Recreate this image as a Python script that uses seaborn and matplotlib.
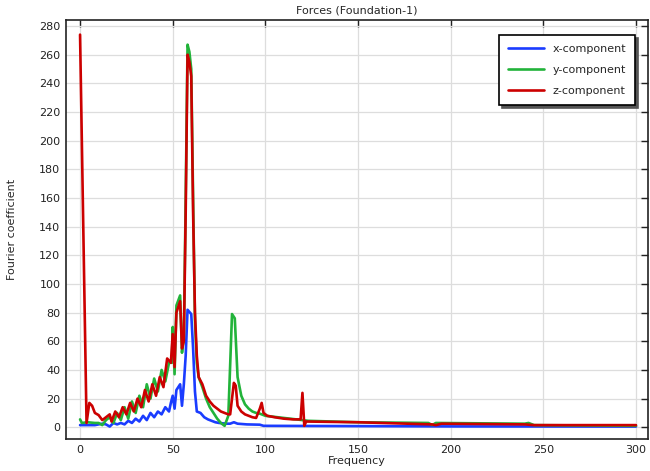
import numpy as np
import pandas as pd
import matplotlib
matplotlib.use("Agg")
import matplotlib.pyplot as plt
import seaborn as sns

# ---- data ----
x_freq = [0, 2, 4, 6, 8, 10, 12, 14, 16, 18, 20, 22, 24, 26, 28, 30, 32, 34, 36, 38,
          40, 42, 44, 46, 48, 49, 50, 51, 52, 54, 55, 56, 57, 58, 60, 61, 62, 63, 65,
          67, 69, 71, 73, 75, 79, 81, 83, 85, 90, 97, 99, 150, 200, 300]
x_vals = [1.5, 1.5, 1.5, 1.5, 1.5, 2, 2.5, 2, 0.5, 3, 2, 3, 2, 4.5, 3, 6, 4, 8, 5, 10,
          7, 11, 9, 14, 11, 17, 22, 13, 26, 30, 15, 30, 50, 82, 79, 55, 25, 11, 10,
          7, 5.5, 4.5, 3.5, 3, 2.5, 2.5, 3.5, 2.5, 2, 1.8, 1, 0.8, 0.6, 0.5]

y_freq = [0, 1, 4, 8, 10, 12, 14, 16, 18, 20, 22, 24, 26, 28, 30, 32, 34, 36, 38, 40,
          42, 44, 46, 48, 49.5, 50, 51, 52, 54, 55, 56, 57, 58, 59, 60, 61, 62, 63, 64,
          66, 68, 70, 72, 74, 76, 78, 80, 82, 83.5, 85, 87, 89, 91, 93, 95, 97, 100,
          110, 120, 123, 150, 188, 190, 192, 240, 242, 245, 300]
y_vals = [5.5, 3, 3.5, 3, 3, 1.5, 5, 7, 3, 10, 5, 14, 6, 18, 10, 22, 14, 30, 20, 34,
          25, 40, 32, 45, 45, 70, 37, 85, 92, 52, 62, 160, 267, 262, 250, 160, 75, 45, 35,
          28, 20, 14, 10, 6, 3, 1, 8, 79, 76, 35, 22, 16, 13, 11, 10, 9.5, 8,
          6.5, 5, 4.5, 3.5, 3, 1.5, 3, 2.5, 3, 1.5, 1]

z_freq = [0, 3.5, 5, 6.5, 8, 10, 12, 14, 16, 17, 19, 21, 23, 25, 27, 29, 31, 33, 35,
          37, 39, 41, 43, 45, 47, 49, 50, 51, 52, 54, 55, 56, 57, 58, 59, 60, 61, 62,
          63, 64, 66, 68, 70, 72, 74, 76, 78, 80, 81, 82, 83, 84, 85, 87, 89, 91, 93,
          95, 97, 98, 99, 101, 105, 110, 115, 119, 120, 121, 122, 150, 190, 192, 195,
          240, 245, 300]
z_vals = [274, 3, 17, 15, 10, 8.5, 5, 7, 9, 4, 11, 7, 14, 9, 17, 11, 20, 14, 26,
          18, 30, 22, 35, 28, 48, 45, 65, 42, 80, 88, 55, 60, 150, 260, 255, 245, 150, 80,
          50, 35, 30, 22, 18, 15, 13, 11, 10, 9, 9, 20, 31, 29, 15, 11, 9, 8, 7,
          6.5, 13, 17, 10, 8, 7, 6, 5.5, 5.5, 24, 1, 4, 3.5, 2, 1.5, 2.5,
          2, 1.5, 1.5]

series = [("x-component", x_freq, x_vals, "#1a3cff"),
          ("y-component", y_freq, y_vals, "#22b33a"),
          ("z-component", z_freq, z_vals, "#cc0000")]

sns.set_theme(style="whitegrid")
plt.rcParams["font.family"] = ["DejaVu Sans"]
plt.rcParams["font.size"] = 8

fig = plt.figure(figsize=(6.5, 4.71), dpi=100)
ax = fig.add_axes([0.1015, 0.0673, 0.8955, 0.8902])

for name, f, v, c in series:
    df = pd.DataFrame({"Frequency": f, "value": v})
    sns.lineplot(data=df, x="Frequency", y="value", ax=ax, color=c, lw=1.9,
                 label=name, sort=False, estimator=None)

ax.set_xlim(-7.6, 306.5)
ax.set_ylim(-8.4, 284.2)
ax.set_xticks(np.arange(0, 301, 50))
ax.set_yticks(np.arange(0, 281, 20))
ax.set_facecolor("white")
ax.grid(True, color="#dddddd", lw=0.9)
for s in ax.spines.values():
    s.set_color("#222222")
    s.set_linewidth(1.2)
ax.tick_params(direction="in", length=5, width=1, top=True, right=True,
               labelsize=8, colors="#222222", pad=4)

ax.set_xlabel("Frequency", fontsize=8, labelpad=1)
ax.set_ylabel("Fourier coefficient", fontsize=8, labelpad=16)
ax.set_title("Forces (Foundation-1)", fontsize=8, pad=5)

leg = ax.legend(loc="upper right", bbox_to_anchor=(0.987, 0.978), frameon=True,
                fancybox=False, shadow={"color": "#555555", "alpha": 1},
                fontsize=8, handlelength=3.2, borderpad=0.8, labelspacing=1.0)
leg.get_frame().set_edgecolor("black")
leg.get_frame().set_linewidth(1.2)
leg.get_frame().set_alpha(1)

fig.savefig("out.png", dpi=100)
